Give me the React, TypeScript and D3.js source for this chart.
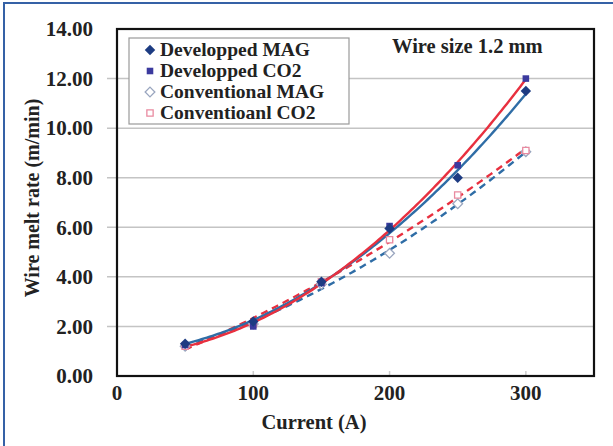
import { useEffect, useRef } from "react"
import * as d3 from "d3"

// Data
const currents = [50, 100, 150, 200, 250, 300]
const developpedMAG = [1.3, 2.2, 3.8, 5.95, 8.0, 11.5]
const developpedCO2 = [1.25, 2.0, 3.75, 6.05, 8.5, 12.0]
const conventionalMAG = [1.2, 2.1, 3.7, 4.95, 6.95, 9.05]
const conventionalCO2 = [1.2, 2.1, 3.8, 5.5, 7.3, 9.1]
const seriesNames = ["Developped MAG", "Developped CO2", "Conventional MAG", "Conventioanl CO2"]
const xTicks = [0, 100, 200, 300]
const yTicks = [0, 2, 4, 6, 8, 10, 12, 14]

const W = 613
const H = 446
const FONT = "'Liberation Serif', 'Times New Roman', serif"

// least squares quadratic (like Excel's poly trendline)
const quadFit = (xs: number[], ys: number[]) => {
  const m = d3.mean(xs) as number
  const u = xs.map(x => (x - m) / 100)
  const s = [0, 0, 0, 0, 0]
  const t = [0, 0, 0]
  u.forEach((x, i) => {
    for (let k = 0; k < 5; k++) s[k] += Math.pow(x, k)
    for (let k = 0; k < 3; k++) t[k] += Math.pow(x, k) * ys[i]
  })
  const A = [
    [s[0], s[1], s[2], t[0]],
    [s[1], s[2], s[3], t[1]],
    [s[2], s[3], s[4], t[2]],
  ]
  for (let i = 0; i < 3; i++) {
    for (let j = i + 1; j < 3; j++) {
      const f = A[j][i] / A[i][i]
      for (let k = i; k < 4; k++) A[j][k] -= f * A[i][k]
    }
  }
  const c = [0, 0, 0]
  for (let i = 2; i >= 0; i--) {
    let v = A[i][3]
    for (let k = i + 1; k < 3; k++) v -= A[i][k] * c[k]
    c[i] = v / A[i][i]
  }
  return (x: number) => {
    const z = (x - m) / 100
    return c[0] + c[1] * z + c[2] * z * z
  }
}

export default function App() {
  const ref = useRef<SVGSVGElement>(null)

  useEffect(() => {
    const svg = d3.select(ref.current)
    svg.selectAll("*").remove()

    const x = d3.scaleLinear().domain([0, 350]).range([117, 594])
    const y = d3.scaleLinear().domain([0, 14]).range([376, 29])

    svg.append("rect").attr("width", W).attr("height", H).attr("fill", "#fff")
    // outer blue frame
    svg.append("rect")
      .attr("x", 4).attr("y", 3).attr("width", W + 10).attr("height", H + 10)
      .attr("fill", "none").attr("stroke", "#3561a6").attr("stroke-width", 2)

    // gridlines (extend left as ticks)
    svg.append("g").selectAll("line")
      .data(yTicks.filter(v => v > 0 && v < 14))
      .join("line")
      .attr("x1", x(0) - 10).attr("x2", x(350))
      .attr("y1", d => y(d)).attr("y2", d => y(d))
      .attr("stroke", "#c4c4c4").attr("stroke-width", 1.5)

    // faint x ticks
    svg.append("g").selectAll("line")
      .data(xTicks.filter(v => v > 0))
      .join("line")
      .attr("x1", d => x(d)).attr("x2", d => x(d))
      .attr("y1", y(0)).attr("y2", y(0) - 5)
      .attr("stroke", "#ccc").attr("stroke-width", 1.5)

    // plot frame
    svg.append("rect")
      .attr("x", x(0)).attr("y", y(14))
      .attr("width", x(350) - x(0)).attr("height", y(0) - y(14))
      .attr("fill", "none").attr("stroke", "#111").attr("stroke-width", 2.2)

    // tick labels
    svg.append("g").selectAll("text")
      .data(yTicks)
      .join("text")
      .attr("x", 93).attr("y", d => y(d)).attr("dy", "0.35em")
      .attr("text-anchor", "end")
      .attr("font-family", FONT).attr("font-weight", 700).attr("font-size", 21)
      .attr("fill", "#222")
      .text(d => d3.format(".2f")(d))

    svg.append("g").selectAll("text")
      .data(xTicks)
      .join("text")
      .attr("x", d => x(d)).attr("y", 400)
      .attr("text-anchor", "middle")
      .attr("font-family", FONT).attr("font-weight", 700).attr("font-size", 21)
      .attr("fill", "#222")
      .text(d => d)

    // axis titles
    svg.append("text")
      .attr("x", 314).attr("y", 429)
      .attr("text-anchor", "middle")
      .attr("font-family", FONT).attr("font-weight", 700).attr("font-size", 20.5)
      .attr("fill", "#222")
      .text("Current (A)")

    svg.append("text")
      .attr("transform", "translate(39,198) rotate(-90)")
      .attr("text-anchor", "middle")
      .attr("font-family", FONT).attr("font-weight", 700).attr("font-size", 20)
      .attr("fill", "#222")
      .text("Wire melt rate (m/min)")

    svg.append("text")
      .attr("x", 392).attr("y", 53)
      .attr("font-family", FONT).attr("font-weight", 700).attr("font-size", 20.5)
      .attr("fill", "#222")
      .text("Wire size 1.2 mm")

    // trend lines
    const trends = [
      { ys: conventionalMAG, color: "#2f6da6", dash: "7,5" },
      { ys: conventionalCO2, color: "#e8303f", dash: "7,5" },
      { ys: developpedMAG, color: "#2f6da6", dash: null },
      { ys: developpedCO2, color: "#e8303f", dash: null },
    ]
    const line = d3.line<number[]>().x(d => x(d[0])).y(d => y(d[1]))
    trends.forEach(t => {
      const f = quadFit(currents, t.ys)
      const pts = d3.range(50, 300.1, 2).map(v => [v, f(v)])
      svg.append("path")
        .attr("d", line(pts))
        .attr("fill", "none")
        .attr("stroke", t.color)
        .attr("stroke-width", 2.4)
        .attr("stroke-dasharray", t.dash)
    })

    // markers
    const diamond = d3.symbol().type(d3.symbolDiamond2)
    const square = d3.symbol().type(d3.symbolSquare2)
    const drawMarker = (g: any, kind: number, px: number, py: number) => {
      if (kind === 0) {
        g.append("path").attr("d", diamond.size(70)()).attr("transform", `translate(${px},${py})`)
          .attr("fill", "#1d3b82")
      } else if (kind === 1) {
        g.append("path").attr("d", square.size(55)()).attr("transform", `translate(${px},${py})`)
          .attr("fill", "#3b3a9e")
      } else if (kind === 2) {
        g.append("path").attr("d", diamond.size(60)()).attr("transform", `translate(${px},${py})`)
          .attr("fill", "#fff").attr("stroke", "#9aa6bf").attr("stroke-width", 1.3)
      } else {
        g.append("path").attr("d", square.size(50)()).attr("transform", `translate(${px},${py})`)
          .attr("fill", "#fff").attr("stroke", "#e98aa0").attr("stroke-width", 1.3)
      }
    }

    const allSeries = [conventionalMAG, conventionalCO2, developpedCO2, developpedMAG]
    const kinds = [2, 3, 1, 0]
    const mg = svg.append("g")
    allSeries.forEach((ys, si) => {
      ys.forEach((v, i) => drawMarker(mg, kinds[si], x(currents[i]), y(v)))
    })

    // legend
    const lg = svg.append("g")
    lg.append("rect")
      .attr("x", 129).attr("y", 38).attr("width", 220).attr("height", 86)
      .attr("fill", "#fff").attr("stroke", "#9a9a9a").attr("stroke-width", 1.2)
    seriesNames.forEach((name, i) => {
      const cy = 50 + i * 21
      drawMarker(lg, i, 150, cy)
      lg.append("text")
        .attr("x", 160).attr("y", cy + 6)
        .attr("font-family", FONT).attr("font-weight", 700).attr("font-size", 19.5)
        .attr("fill", "#222")
        .text(name)
    })
  }, [])

  return (
    <svg ref={ref} width={W} height={H}
      style={{ position: "absolute", left: 0, top: 0, display: "block" }} />
  )
}
